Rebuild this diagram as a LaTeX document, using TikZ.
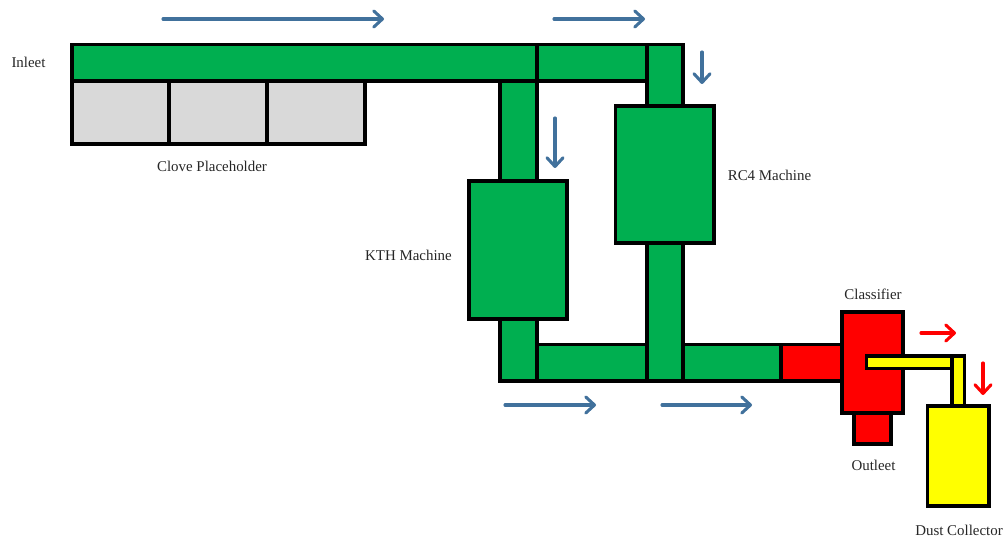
\documentclass[tikz,border=0pt]{standalone}
\usepackage{fontspec}
\setmainfont{Liberation Serif}
\usetikzlibrary{arrows.meta}
\definecolor{pipegreen}{HTML}{00AF50}
\definecolor{flowblue}{HTML}{41719C}
\definecolor{hopgrey}{HTML}{D9D9D9}
\definecolor{purered}{HTML}{FF0000}
\definecolor{pureyellow}{HTML}{FFFF00}
\tikzset{
  box/.style={draw=black,line width=2.3pt,inner sep=0pt,outer sep=0pt,line join=miter},
  flow/.style={line width=2.3pt,line cap=round,-{Straight Barb[length=6.5pt,width=12pt,line width=2.3pt,round]}},
  bluef/.style={flow,draw=flowblue},
  redf/.style={flow,draw=purered},
  lbl/.style={font=\fontsize{11.2pt}{13pt}\selectfont,text=black!85,inner sep=0pt}
}
\newcommand\bx[6]{%
  \pgfmathsetmacro\bxcx{(#2+#4)/2}\pgfmathsetmacro\bxcy{(#3+#5)/2}%
  \pgfmathsetmacro\bxw{(#4-#2)*0.75}\pgfmathsetmacro\bxh{(#5-#3)*0.75}%
  \node[box,fill=#6,minimum width=\bxw pt,minimum height=\bxh pt] (#1) at (\bxcx,\bxcy) {};}
\newcommand\flw[6]{%
  \coordinate (#1s) at (#3,#4); \coordinate (#1e) at (#5,#6);
  \draw[#2] (#1s) -- (#1e);}
\begin{document}
\begin{tikzpicture}[x=0.75pt,y=-0.75pt]
\useasboundingbox (0,0) rectangle (1003,538);
% hoppers
\bx{ha}{72}{81}{169}{144}{hopgrey}
\bx{hb}{169}{81}{267}{144}{hopgrey}
\bx{hc}{267}{81}{365}{144}{hopgrey}
% top duct
\bx{topa}{72}{44.5}{537}{81}{pipegreen}
\bx{topb}{537}{44.5}{647}{81}{pipegreen}
\bx{rcup}{647}{44.5}{683}{106}{pipegreen}
\bx{kthup}{500}{81}{537}{181}{pipegreen}
% machines
\bx{rc}{615.5}{106}{714}{243}{pipegreen}
\bx{kth}{469}{181}{567}{319}{pipegreen}
% bottom duct
\bx{kthdn}{500}{319}{537}{381}{pipegreen}
\bx{bota}{537}{344.5}{647}{381}{pipegreen}
\bx{rcdn}{647}{243}{683}{381}{pipegreen}
\bx{botb}{683}{344.5}{781}{381}{pipegreen}
\bx{redduct}{781}{344.5}{842}{381}{purered}
% classifier group
\bx{outlet}{854}{413}{891}{444}{purered}
\bx{classif}{842}{312}{903}{413}{purered}
\bx{yh}{866.5}{356}{952}{368.5}{pureyellow}
\bx{yv}{952}{356}{964.5}{406}{pureyellow}
\bx{dust}{927.5}{406}{989}{506}{pureyellow}
% arrows
\flw{a}{bluef}{163}{19}{384}{19}
\flw{b}{bluef}{554}{19}{645}{19}
\flw{c}{bluef}{702}{52}{702}{84}
\flw{d}{bluef}{555}{118}{555}{168}
\flw{e}{bluef}{505}{405}{596}{405}
\flw{f}{bluef}{662}{405}{752}{405}
\flw{g}{redf}{921}{333}{956}{333}
\flw{h}{redf}{983}{363}{983}{395}
% labels
\node[lbl] (l1) at (28.5,62) {Inleet};
\node[lbl] (l2) at (212,166) {Clove Placeholder};
\node[lbl] (l3) at (408.5,255) {KTH Machine};
\node[lbl] (l4) at (769.5,175) {RC4 Machine};
\node[lbl] (l5) at (873,294) {Classifier};
\node[lbl] (l6) at (873.5,465) {Outleet};
\node[lbl] (l7) at (959,530) {Dust Collector};
\end{tikzpicture}
\end{document}
